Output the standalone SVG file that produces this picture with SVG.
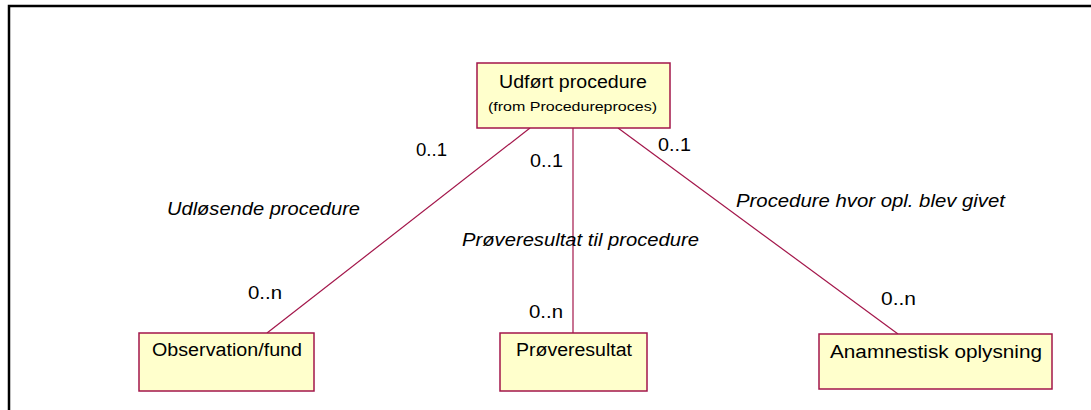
<svg xmlns="http://www.w3.org/2000/svg" width="1091" height="410" viewBox="0 0 1091 410">
<style>
.box{fill:#ffffcc;stroke:#a3164a;stroke-width:1.5}
.conn{stroke:#a3164a;stroke-width:1.2;fill:none}
.t{font-family:"Liberation Sans",Arial,sans-serif;fill:#000}
.name{font-size:18px}
.small{font-size:13.5px}
.mult{font-size:18px}
.role{font-size:17.5px;font-style:italic}
</style>
<rect x="0" y="0" width="1091" height="410" fill="#ffffff"/>
<path d="M9 410 V6 H1091" fill="none" stroke="#000" stroke-width="2.5"/>
<g id="connectors">
<line class="conn" x1="530" y1="128" x2="267" y2="333"/>
<line class="conn" x1="573" y1="128" x2="573" y2="333"/>
<line class="conn" x1="618" y1="128" x2="898" y2="334"/>
<text class="t mult" x="416" y="156" textLength="31" lengthAdjust="spacingAndGlyphs">0..1</text>
<text class="t mult" x="530" y="167" textLength="33" lengthAdjust="spacingAndGlyphs">0..1</text>
<text class="t mult" x="658" y="151" textLength="33" lengthAdjust="spacingAndGlyphs">0..1</text>
<text class="t mult" x="248" y="299" textLength="34" lengthAdjust="spacingAndGlyphs">0..n</text>
<text class="t mult" x="529" y="318" textLength="34" lengthAdjust="spacingAndGlyphs">0..n</text>
<text class="t mult" x="881" y="305" textLength="35" lengthAdjust="spacingAndGlyphs">0..n</text>
<text class="t role" x="167" y="215" textLength="193" lengthAdjust="spacingAndGlyphs">Udløsende procedure</text>
<text class="t role" x="462" y="246" textLength="237" lengthAdjust="spacingAndGlyphs">Prøveresultat til procedure</text>
<text class="t role" x="736" y="207" textLength="269" lengthAdjust="spacingAndGlyphs">Procedure hvor opl. blev givet</text>
</g>
<g id="node-udfoert">
<rect class="box" x="477" y="63" width="193" height="65"/>
<text class="t name" x="499" y="88" textLength="148" lengthAdjust="spacingAndGlyphs">Udført procedure</text>
<text class="t small" x="488" y="111" textLength="169" lengthAdjust="spacingAndGlyphs">(from Procedureproces)</text>
</g>
<g id="node-observation">
<rect class="box" x="139" y="333" width="175" height="58"/>
<text class="t name" x="152" y="356" textLength="150" lengthAdjust="spacingAndGlyphs">Observation/fund</text>
</g>
<g id="node-proeveresultat">
<rect class="box" x="500" y="333" width="147" height="58"/>
<text class="t name" x="516" y="356" textLength="116" lengthAdjust="spacingAndGlyphs">Prøveresultat</text>
</g>
<g id="node-anamnestisk">
<rect class="box" x="819" y="334" width="233" height="55"/>
<text class="t name" x="830" y="358" textLength="212" lengthAdjust="spacingAndGlyphs">Anamnestisk oplysning</text>
</g>
</svg>
